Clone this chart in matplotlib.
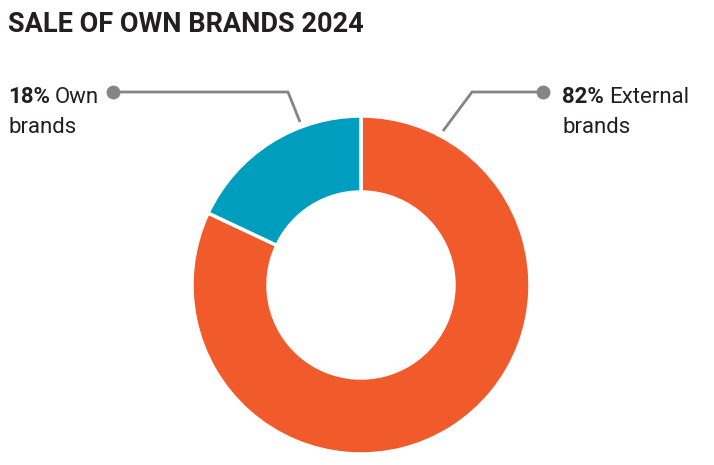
"""Donut chart: share of own brands vs external brands in 2024."""

import matplotlib

matplotlib.use("Agg")

import matplotlib.pyplot as plt

labels = ["External brands", "Own brands"]
shares = [82, 18]
colors = ["#F15A2B", "#009EBE"]

W, H = 714, 465


def px(y):
    # picture y (from top) -> data y (from bottom)
    return H - y


fig = plt.figure(figsize=(W / 100, H / 100), dpi=100)
ax = fig.add_axes([0, 0, 1, 1])

ax.pie(
    shares,
    colors=colors,
    startangle=90,
    counterclock=False,
    center=(361, px(285)),
    radius=169,
    wedgeprops=dict(width=76, edgecolor="white", linewidth=2.5),
    frame=True,
)
ax.set_xlim(0, W)
ax.set_ylim(0, H)
ax.set_aspect("equal")
ax.axis("off")

fig.text(8 / W, 1 - 24 / H, "SALE OF OWN BRANDS 2024", fontsize=19.5, fontweight="bold",
         family="Roboto", color="#231F20", va="center", ha="left")

line_color = "#858585"
# own brands leader
ax.plot([113, 288, 300], [px(92), px(92), px(122)], color=line_color, lw=2, solid_capstyle="butt")
ax.plot(113, px(92), "o", color=line_color, ms=9)
# external brands leader
ax.plot([543, 472, 443], [px(92), px(92), px(131)], color=line_color, lw=2, solid_capstyle="butt")
ax.plot(543, px(92), "o", color=line_color, ms=9)

txt = dict(fontsize=16, family="Roboto", color="#231F20", va="baseline", ha="left")
renderer = fig.canvas.get_renderer()


def label(x, y, pct, first, second):
    t = ax.text(x, px(y), pct, fontweight="bold", **txt)
    w = t.get_window_extent(renderer).width
    ax.text(x + w + 5, px(y), first, **txt)
    ax.text(x, px(y + 30), second, **txt)


label(8, 103, "18%", "Own", "brands")
label(562, 103, "82%", "External", "brands")

fig.savefig("out.png", dpi=100)
